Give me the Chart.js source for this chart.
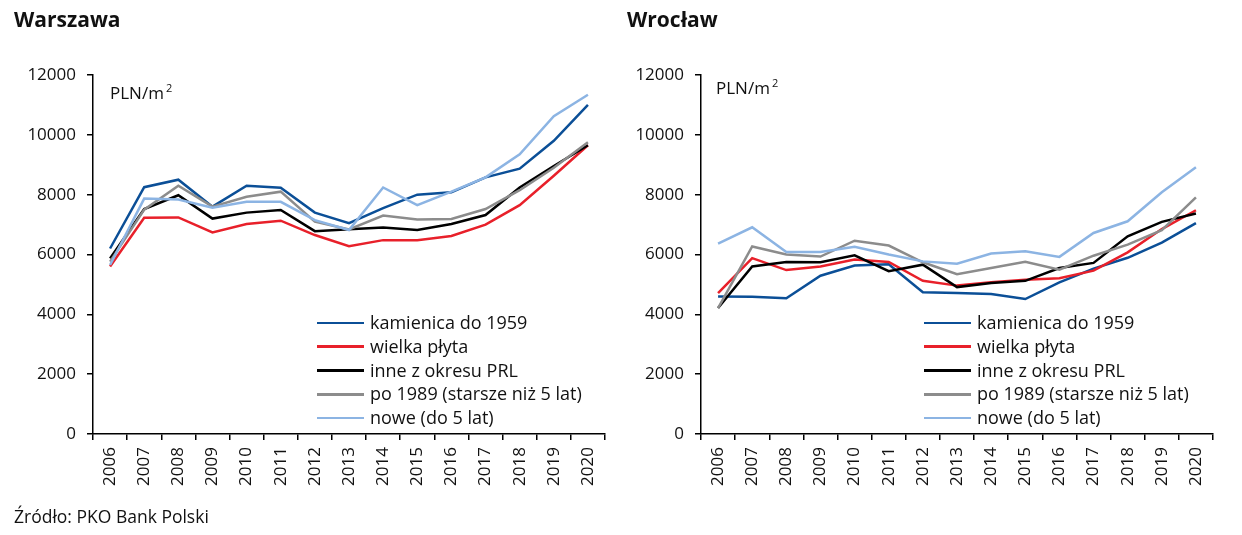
<!DOCTYPE html>
<html>
<head>
<meta charset="utf-8">
<script src="https://cdn.jsdelivr.net/npm/chart.js@4"></script>
<style>
  body { margin: 0; background: #fff; font-family: 'Open Sans', sans-serif; color: #111; }
  #page { position: relative; width: 1242px; height: 535px; overflow: hidden; }
  canvas { position: absolute; top: 0; }
  .title { position: absolute; top: 5px; font-size: 21px; font-weight: bold; }
  .unit { position: absolute; font-size: 17px; }
  .unit sup { font-size: 11px; vertical-align: 7px; margin-left: 2px; }
  .legend { position: absolute; font-size: 18px; line-height: 23.8px; }
  .legend div { display: flex; align-items: center; white-space: nowrap; }
  .legend span.line { display: inline-block; width: 47px; height: 2.5px; margin-right: 6px; }
  #source { position: absolute; left: 14px; top: 504px; font-size: 17.5px; }
</style>
</head>
<body>
<div id="page">
  <canvas id="warszawaChart" width="621" height="535" style="left:0"></canvas>
  <canvas id="wroclawChart" width="621" height="535" style="left:621px"></canvas>
  <div class="title" style="left:14px">Warszawa</div>
  <div class="title" style="left:627px">Wrocław</div>
  <div class="unit" style="left:110px; top:80px">PLN/m<sup>2</sup></div>
  <div class="unit" style="left:716px; top:75px">PLN/m<sup>2</sup></div>
  <div class="legend" id="legendLeft" style="left:317px; top:311px"></div>
  <div class="legend" id="legendRight" style="left:924px; top:311px"></div>
  <div id="source">Źródło: PKO Bank Polski</div>
</div>
<script>
// Data
const years = ['2006', '2007', '2008', '2009', '2010', '2011', '2012', '2013', '2014', '2015', '2016', '2017', '2018', '2019', '2020'];
const seriesNames = ['kamienica do 1959', 'wielka płyta', 'inne z okresu PRL', 'po 1989 (starsze niż 5 lat)', 'nowe (do 5 lat)'];
const seriesColors = ['#0b4f97', '#e8202a', '#000000', '#8c8c8c', '#8cb4e3'];

const warszawaKamienica = [6200, 8250, 8500, 7600, 8300, 8230, 7400, 7050, 7550, 8000, 8080, 8580, 8870, 9800, 11000];
const warszawaPlyta = [5600, 7230, 7240, 6740, 7020, 7130, 6650, 6280, 6480, 6480, 6620, 7000, 7650, 8630, 9650];
const warszawaPrl = [5870, 7520, 7980, 7200, 7400, 7490, 6780, 6840, 6900, 6820, 7020, 7320, 8240, 8960, 9650];
const warszawaPo1989 = [5760, 7500, 8300, 7600, 7930, 8100, 7100, 6840, 7300, 7170, 7190, 7520, 8150, 8900, 9750];
const warszawaNowe = [5650, 7870, 7840, 7560, 7760, 7760, 7150, 6820, 8240, 7650, 8100, 8580, 9350, 10620, 11340];

const wroclawKamienica = [4600, 4590, 4540, 5290, 5630, 5670, 4740, 4710, 4680, 4510, 5070, 5530, 5890, 6400, 7050];
const wroclawPlyta = [4710, 5880, 5480, 5600, 5830, 5750, 5120, 4960, 5070, 5160, 5210, 5460, 6070, 6850, 7480];
const wroclawPrl = [4210, 5600, 5750, 5740, 5970, 5440, 5660, 4910, 5050, 5120, 5550, 5720, 6610, 7090, 7370];
const wroclawPo1989 = [4210, 6270, 6000, 5930, 6460, 6300, 5740, 5340, 5550, 5760, 5490, 5960, 6330, 6810, 7910];
const wroclawNowe = [6360, 6910, 6080, 6080, 6260, 6000, 5770, 5690, 6030, 6110, 5920, 6720, 7110, 8080, 8920];

const yTicks = [0, 2000, 4000, 6000, 8000, 10000, 12000];

Chart.defaults.font.family = "'Open Sans', sans-serif";
Chart.defaults.color = '#111';

function makeDatasets(seriesValues) {
  return seriesValues.map((values, i) => ({
    label: seriesNames[i],
    data: values,
    borderColor: seriesColors[i],
    borderWidth: 2.5,
    pointRadius: 0,
    tension: 0,
    order: seriesNames.length - i // later series on top
  }));
}

function makeChart(canvasId, seriesValues, yAxisWidth, padRight) {
  const ctx = document.getElementById(canvasId).getContext('2d');
  return new Chart(ctx, {
    type: 'line',
    data: { labels: years, datasets: makeDatasets(seriesValues) },
    options: {
      responsive: false,
      animation: false,
      layout: { padding: { top: 75, right: padRight, left: 0, bottom: 0 } },
      plugins: { legend: { display: false }, tooltip: { enabled: false } },
      scales: {
        x: {
          offset: true,
          grid: { offset: true, drawOnChartArea: false, tickLength: 6, color: '#000', lineWidth: 1.5 },
          border: { color: '#000', width: 1.5 },
          ticks: { minRotation: 90, maxRotation: 90, padding: 7, font: { size: 17 }, color: '#111' },
          afterFit: scale => { scale.height = 101; }
        },
        y: {
          min: yTicks[0],
          max: yTicks[yTicks.length - 1],
          afterBuildTicks: scale => { scale.ticks = yTicks.map(v => ({ value: v })); },
          grid: { drawOnChartArea: false, tickLength: 6, color: '#000', lineWidth: 1.5 },
          border: { color: '#000', width: 1.5 },
          ticks: { padding: 11, font: { size: 17 }, color: '#111', callback: v => String(v) },
          afterFit: scale => { scale.width = yAxisWidth; }
        }
      }
    }
  });
}

function renderLegend(elId) {
  const el = document.getElementById(elId);
  el.innerHTML = '';
  seriesNames.forEach((name, i) => {
    const row = document.createElement('div');
    row.innerHTML = `<span class="line" style="background:${seriesColors[i]}"></span>${name}`;
    el.appendChild(row);
  });
}

makeChart('warszawaChart', [warszawaKamienica, warszawaPlyta, warszawaPrl, warszawaPo1989, warszawaNowe], 93, 16);
makeChart('wroclawChart', [wroclawKamienica, wroclawPlyta, wroclawPrl, wroclawPo1989, wroclawNowe], 80, 29);
renderLegend('legendLeft');
renderLegend('legendRight');
</script>
</body>
</html>
